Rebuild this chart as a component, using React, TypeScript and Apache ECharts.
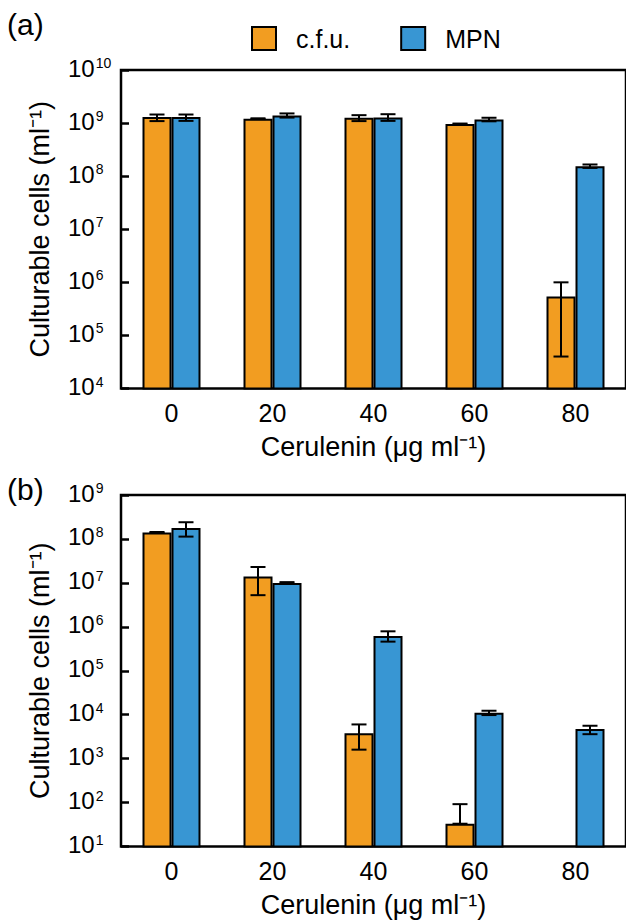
import React, { useEffect, useRef } from "react";
import * as echarts from "echarts";

// ---- Data ----
const categories = ["0", "20", "40", "60", "80"];

// Panel (a)
const cfuA = [1.3e9, 1.21e9, 1.26e9, 0.96e9, 5.4e5];
const cfuALow = [1.09e9, 1.19e9, 1.09e9, 0.94e9, 4e4];
const cfuAHigh = [1.45e9, 1.23e9, 1.41e9, 0.98e9, 1e6];
const mpnA = [1.3e9, 1.39e9, 1.28e9, 1.17e9, 1.54e8];
const mpnALow = [1.1e9, 1.27e9, 1.1e9, 1.08e9, 1.43e8];
const mpnAHigh = [1.45e9, 1.52e9, 1.47e9, 1.26e9, 1.66e8];

// Panel (b)
const cfuB: (number | null)[] = [1.41e8, 1.4e7, 3.8e3, 33, null];
const cfuBLow: (number | null)[] = [1.38e8, 5.25e6, 1.6e3, 33, null];
const cfuBHigh: (number | null)[] = [1.44e8, 2.3e7, 6.0e3, 92, null];
const mpnB = [1.78e8, 1.0e7, 6.2e5, 1.1e4, 4.7e3];
const mpnBLow = [1.13e8, 0.96e7, 4.6e5, 0.98e4, 3.6e3];
const mpnBHigh = [2.4e8, 1.04e7, 7.9e5, 1.23e4, 5.6e3];

const yRangeA = [1e4, 1e10];
const yRangeB = [1e1, 1e9];

const seriesNames = ["c.f.u.", "MPN"];
const xAxisName = "Cerulenin (μg ml⁻¹)";
const yAxisName = "Culturable cells (ml⁻¹)";

// ---- Styles ----
const ORANGE = "#F29D21";
const BLUE = "#3896D3";
const FONT = "Liberation Sans, Arial, Helvetica, sans-serif";
const BAR_W = 29;
const CAP = 7.5;

function errData(low: (number | null)[], high: (number | null)[]) {
  const out: any[] = [];
  low.forEach((l, i) => {
    if (l != null && high[i] != null) out.push([i, l, high[i]]);
  });
  return out;
}

function errSeries(idx: number, name: string, data: any[], offset: number) {
  return {
    type: "custom",
    name,
    xAxisIndex: idx,
    yAxisIndex: idx,
    z: 5,
    encode: { x: 0, y: [1, 2] },
    data,
    renderItem: (params: any, api: any) => {
      const i = api.value(0);
      const hi = api.coord([i, api.value(2)]);
      const lo = api.coord([i, api.value(1)]);
      const x = hi[0] + offset;
      const st = { stroke: "#000", lineWidth: 2 };
      return {
        type: "group",
        children: [
          { type: "line", shape: { x1: x, y1: hi[1], x2: x, y2: lo[1] }, style: st },
          { type: "line", shape: { x1: x - CAP, y1: hi[1], x2: x + CAP, y2: hi[1] }, style: st },
          { type: "line", shape: { x1: x - CAP, y1: lo[1], x2: x + CAP, y2: lo[1] }, style: st },
        ],
      };
    },
  };
}

function yAxisCfg(idx: number, range: number[]) {
  return {
    type: "log",
    logBase: 10,
    gridIndex: idx,
    min: range[0],
    max: range[1],
    name: yAxisName,
    nameLocation: "middle",
    nameGap: 68,
    nameTextStyle: { fontSize: 27, color: "#000", fontFamily: FONT },
    axisLine: { show: false },
    axisTick: { show: true, inside: true, length: 8, lineStyle: { color: "#000", width: 2.5 } },
    splitLine: { show: false },
    axisLabel: {
      align: "left",
      margin: 53,
      color: "#000",
      fontFamily: FONT,
      formatter: (v: number) => `{b|10}{s|${Math.round(Math.log10(v))}}`,
      rich: {
        b: { fontSize: 24, fontFamily: FONT, color: "#000", padding: [0, 0, 4, 0] },
        s: { fontSize: 14, fontFamily: FONT, color: "#000", verticalAlign: "top", padding: [0, 0, 0, 1] },
      },
    },
  };
}

function xAxisCfg(idx: number) {
  return {
    type: "category",
    gridIndex: idx,
    data: categories,
    name: xAxisName,
    nameLocation: "middle",
    nameGap: 45,
    nameTextStyle: { fontSize: 27, color: "#000", fontFamily: FONT },
    axisLine: { show: false },
    axisTick: { show: false },
    axisLabel: { fontSize: 25, color: "#000", fontFamily: FONT, margin: 12 },
  };
}

function barSeries(idx: number, name: string, color: string, data: (number | null)[]) {
  return {
    type: "bar",
    name,
    xAxisIndex: idx,
    yAxisIndex: idx,
    barWidth: BAR_W,
    barGap: "0%",
    data: data.map((v) => (v == null ? "-" : v)),
    itemStyle: { color, borderColor: "#000", borderWidth: 2 },
  };
}

export default function App() {
  const ref = useRef<HTMLDivElement>(null);
  useEffect(() => {
    document.body.style.margin = "0";
    if (!ref.current) return;
    const chart = echarts.init(ref.current, null, { renderer: "svg" });
    const gridStyle = { show: true, borderColor: "#000", borderWidth: 2.5, backgroundColor: "transparent" };
    chart.setOption({
      animation: false,
      textStyle: { fontFamily: FONT },
      legend: {
        data: seriesNames,
        left: 246,
        top: 21,
        itemWidth: 24,
        itemHeight: 23,
        itemGap: 50,
        icon: "rect",
        itemStyle: { borderColor: "#000", borderWidth: 2 },
        textStyle: { fontSize: 25, color: "#000", fontFamily: FONT, padding: [0, 0, 0, 15] },
        selectedMode: false,
      },
      graphic: [
        { type: "text", left: 7, top: 9, style: { text: "(a)", fontSize: 30, fill: "#000", fontFamily: FONT } },
        { type: "text", left: 7, top: 474, style: { text: "(b)", fontSize: 30, fill: "#000", fontFamily: FONT } },
      ],
      grid: [
        { left: 121, right: 0, top: 70, height: 318.5, ...gridStyle },
        { left: 121, right: 0, top: 495, height: 351.5, ...gridStyle },
      ],
      xAxis: [xAxisCfg(0), xAxisCfg(1)],
      yAxis: [yAxisCfg(0, yRangeA), yAxisCfg(1, yRangeB)],
      series: [
        barSeries(0, seriesNames[0], ORANGE, cfuA),
        barSeries(0, seriesNames[1], BLUE, mpnA),
        errSeries(0, "cfu-err-a", errData(cfuALow, cfuAHigh), -BAR_W / 2),
        errSeries(0, "mpn-err-a", errData(mpnALow, mpnAHigh), BAR_W / 2),
        barSeries(1, seriesNames[0], ORANGE, cfuB),
        barSeries(1, seriesNames[1], BLUE, mpnB),
        errSeries(1, "cfu-err-b", errData(cfuBLow, cfuBHigh), -BAR_W / 2),
        errSeries(1, "mpn-err-b", errData(mpnBLow, mpnBHigh), BAR_W / 2),
      ],
    });
    return () => chart.dispose();
  }, []);
  return <div ref={ref} style={{ width: 626, height: 920 }} />;
}
